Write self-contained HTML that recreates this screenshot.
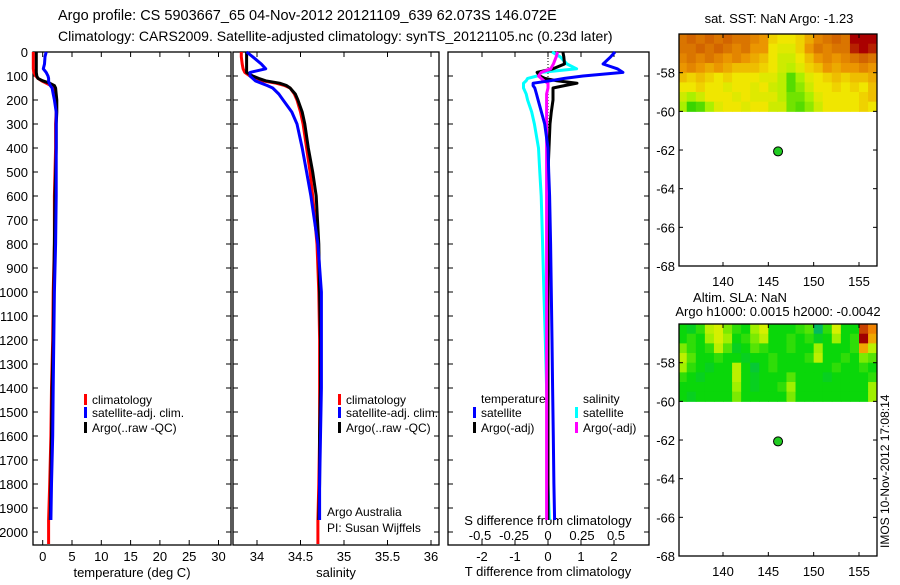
<!DOCTYPE html>
<html><head><meta charset="utf-8"><style>
body{margin:0;background:#fff;}
svg text{font-family:"Liberation Sans",sans-serif;fill:#000;}
</style></head><body>
<svg id="fig" width="900" height="580" viewBox="0 0 900 580" xmlns="http://www.w3.org/2000/svg">
<text x="58" y="20" font-size="14.5">Argo profile: CS 5903667_65 04-Nov-2012 20121109_639 62.073S 146.072E</text>
<text x="58" y="41" font-size="14">Climatology: CARS2009. Satellite-adjusted climatology: synTS_20121105.nc (0.23d later)</text>
<text x="132" y="577" font-size="13" text-anchor="middle">temperature (deg C)</text>
<text x="336" y="577" font-size="13" text-anchor="middle">salinity</text>
<text x="548" y="576" font-size="13" text-anchor="middle">T difference from climatology</text>
<text x="548" y="525" font-size="13" text-anchor="middle">S difference from climatology</text>
<text x="327" y="516" font-size="12">Argo Australia</text>
<text x="327" y="532" font-size="12">PI: Susan Wijffels</text>
<text x="779" y="23" font-size="13" text-anchor="middle">sat. SST: NaN Argo: -1.23</text>
<text x="740" y="302" font-size="13" text-anchor="middle">Altim. SLA: NaN</text>
<text x="778" y="316" font-size="13" text-anchor="middle">Argo h1000: 0.0015 h2000: -0.0042</text>
<text transform="translate(889,548) rotate(-90)" font-size="12">IMOS 10-Nov-2012 17:08:14</text>
<g id="layer"></g>
</svg>
<script>
// Depth levels (m)
const depths = [0,20,50,70,85,100,110,120,130,140,150,175,200,250,300,400,500,600,800,1000,1200,1400,1600,1800,1950,2050];
// Temperature profiles (deg C)
const tempClim = [-1.6,-1.6,-1.6,-1.6,-1.5,-1.2,-0.8,-0.2,0.6,1.4,1.8,2.1,2.3,2.3,2.2,2.2,2.1,2.0,2.0,1.8,1.7,1.5,1.4,1.2,1.0,1.0];
const tempSat = [0.6,0.4,0.3,0.1,0.6,0.9,1.0,1.0,1.1,1.3,1.6,1.8,2.0,2.3,2.3,2.3,2.3,2.3,2.2,2.0,1.9,1.8,1.7,1.5,1.4,null];
const tempArgo = [-1.1,-1.1,-1.1,-1.1,-1.1,-1.0,-0.8,0.0,1.2,2.0,2.2,2.3,2.4,2.4,2.3,2.3,2.2,2.1,2.0,1.9,1.8,1.6,1.5,1.4,1.3,null];
// Salinity profiles
const salClim = [33.82,33.82,33.83,33.84,33.86,33.92,34.0,34.06,34.22,34.32,34.38,34.43,34.46,34.5,34.53,34.57,34.61,34.64,34.69,34.71,34.72,34.72,34.72,34.71,34.70,34.70];
const salSat = [33.88,33.95,34.05,34.1,33.92,33.92,33.95,33.98,34.05,34.12,34.18,34.25,34.30,34.40,34.46,34.52,34.57,34.62,34.70,34.74,34.74,34.74,34.73,34.72,34.72,null];
const salArgo = [33.88,33.88,33.88,33.88,33.88,33.95,34.02,34.1,34.26,34.34,34.38,34.44,34.47,34.52,34.55,34.59,34.64,34.68,34.71,34.72,34.73,34.73,34.72,34.72,34.71,null];
// Difference profiles
const tDiffSat = [2.03,1.9,1.67,2.1,2.27,1.06,0.5,0.06,-0.45,-0.45,-0.4,-0.35,-0.3,-0.2,-0.1,0.0,0.02,0.05,0.08,0.1,0.12,0.14,0.16,0.18,0.2,null];
const tDiffArgo = [0.45,0.48,0.5,0.15,-0.33,-0.25,-0.1,0.27,0.88,0.5,0.15,0.15,0.15,0.1,0.06,0.03,0.0,0.0,0.0,0.0,0.0,0.0,0.0,0.0,0.0,null];
const sDiffSat = [0.03,0.09,0.14,0.21,-0.05,-0.08,-0.15,-0.16,-0.18,-0.18,-0.18,-0.16,-0.15,-0.12,-0.1,-0.07,-0.06,-0.05,-0.04,-0.03,-0.02,-0.01,0.0,0.0,0.01,null];
const sDiffArgo = [0.07,0.06,0.04,0.02,-0.05,-0.07,-0.05,-0.03,0.0,0.0,0.0,-0.01,-0.01,-0.01,-0.01,-0.01,-0.01,-0.01,-0.01,-0.01,-0.01,-0.01,-0.01,-0.01,-0.01,null];
// Tick labels
const depthTicks = [0,100,200,300,400,500,600,700,800,900,1000,1100,1200,1300,1400,1500,1600,1700,1800,1900,2000];
const tempTicks = [0,5,10,15,20,25,30];
const salTicks = [34,34.5,35,35.5,36];
const tDiffTicks = [-2,-1,0,1,2];
const sDiffTicks = [-0.5,-0.25,0,0.25,0.5];
const latTicks = [-58,-60,-62,-64,-66,-68];
const lonTicks = [140,145,150,155];
// Argo float position
const floatLon = [146.072];
const floatLat = [-62.073];
// Satellite SST grid (normalized 0..1), rows from -56 to -60 deg, 1-deg columns from 135
const sstGrid = [
[.8,.85,.8,.85,.8,.85,.8,.8,.75,.7,.55,.5,.5,.55,.65,.75,.8,.85,.8,1,1,1],
[.8,.8,.85,.8,.85,.8,.75,.8,.7,.7,.5,.45,.45,.55,.7,.8,.75,.8,.8,.95,1,.95],
[.75,.8,.75,.8,.75,.7,.75,.7,.65,.6,.5,.4,.4,.5,.6,.7,.75,.7,.75,.8,.85,.8],
[.7,.75,.7,.65,.7,.65,.6,.6,.6,.55,.5,.4,.35,.45,.55,.6,.7,.65,.7,.7,.75,.7],
[.6,.55,.6,.55,.5,.55,.5,.5,.5,.45,.45,.35,.15,.3,.45,.5,.55,.6,.55,.6,.6,.65],
[.5,.5,.55,.5,.5,.45,.5,.5,.45,.5,.4,.35,.15,.25,.4,.5,.5,.55,.5,.55,.5,.6],
[.4,.3,.4,.5,.5,.5,.45,.5,.45,.45,.45,.35,.2,.2,.3,.45,.5,.5,.5,.5,.55,.6],
[.3,.1,.15,.3,.45,.5,.5,.45,.5,.5,.4,.4,.2,.15,.25,.4,.5,.5,.5,.5,.55,.5]];
// SLA grid (normalized 0..1)
const slaGrid = [
[.3,.25,.35,.55,.6,.45,.35,.3,.5,.6,.3,.3,.3,.35,.4,.1,.35,.6,.3,.3,.9,.8],
[.3,.35,.3,.5,.6,.5,.3,.35,.45,.55,.3,.3,.35,.3,.35,.25,.3,.5,.3,.35,1,.75],
[.45,.35,.3,.35,.55,.4,.25,.3,.4,.35,.3,.3,.35,.3,.3,.5,.3,.3,.3,.35,.75,.55],
[.55,.4,.3,.3,.35,.3,.3,.25,.3,.3,.35,.3,.3,.3,.35,.55,.3,.3,.35,.3,.45,.4],
[.5,.35,.3,.25,.3,.3,.55,.3,.2,.3,.35,.3,.3,.3,.3,.3,.3,.35,.3,.3,.35,.3],
[.35,.3,.25,.3,.3,.3,.55,.3,.25,.3,.3,.3,.4,.3,.3,.3,.25,.3,.3,.3,.3,.35],
[.3,.3,.3,.3,.3,.3,.5,.3,.25,.3,.3,.35,.5,.3,.3,.3,.3,.3,.3,.3,.3,.5],
[.3,.25,.3,.3,.3,.3,.45,.3,.3,.3,.3,.3,.45,.3,.3,.3,.3,.3,.3,.3,.3,.5]];

const NS='http://www.w3.org/2000/svg';
const layer=document.getElementById('layer');
function mk(tag,attrs,parent){const e=document.createElementNS(NS,tag);for(const k in attrs)e.setAttribute(k,attrs[k]);(parent||layer).appendChild(e);return e;}
function lin(d0,d1,r0,r1){return v=>r0+(v-d0)*(r1-r0)/(d1-d0);}

const TOP=52,BOT=545;
const yD=lin(0,2000,52,532);
const panels=[
 {x0:33,x1:231,name:'temperature-panel'},
 {x0:233,x1:439,name:'salinity-panel'},
 {x0:448,x1:649,name:'difference-panel'}];
const xT=lin(0,30,42.7,218.5);
const xS=lin(34,36,257,431);
const xTd=lin(0,2,548,614);
const xSd=lin(0,0.5,548,616);

panels.forEach(p=>{
 const r=mk('rect',{x:p.x0,y:TOP,width:p.x1-p.x0,height:BOT-TOP,fill:'none',stroke:'#000','stroke-width':1.3});
 
 
 depthTicks.forEach(d=>{
  const y=yD(d);
  mk('line',{x1:p.x0,x2:p.x0+5,y1:y,y2:y,stroke:'#000'});
  mk('line',{x1:p.x1,x2:p.x1-5,y1:y,y2:y,stroke:'#000'});
 });
});
depthTicks.forEach(d=>{
 const t=mk('text',{x:28,y:yD(d)+5,'font-size':13,'text-anchor':'end'});
 t.textContent=d;
 
 
});
function xticks(ticks,sc,p,y){
 ticks.forEach(v=>{
  const x=sc(v);
  mk('line',{x1:x,x2:x,y1:BOT,y2:BOT-5,stroke:'#000'});
  mk('line',{x1:x,x2:x,y1:TOP,y2:TOP+5,stroke:'#000'});
  const t=mk('text',{x:x,y:y,'font-size':13,'text-anchor':'middle'});
  t.textContent=v;
  
  
 });
}
xticks(tempTicks,xT,panels[0],561);
xticks(salTicks,xS,panels[1],561);
xticks(tDiffTicks,xTd,panels[2],561);
sDiffTicks.forEach(v=>{
 const t=mk('text',{x:xSd(v),y:540,'font-size':13,'text-anchor':'middle'});
 t.textContent=v;
 
 
});
mk('line',{x1:548,x2:548,y1:TOP,y2:130,stroke:'#000','stroke-dasharray':'1,2','stroke-width':1});

function prof(vals,sc,color,name,w){
 let d='';let started=false;
 vals.forEach((v,i)=>{
  if(v===null||v===undefined)return;
  d+=(started?'L':'M')+sc(v).toFixed(1)+','+yD(depths[i]).toFixed(1);started=true;
 });
 const p=mk('path',{d:d,fill:'none',stroke:color,'stroke-width':w||3,'stroke-linejoin':'round'});
 
 
}
prof(tempClim,xT,'#f00','temperature-climatology-line');
prof(tempArgo,xT,'#000','temperature-argo-line');
prof(tempSat,xT,'#00f','temperature-satellite-line');
prof(salClim,xS,'#f00','salinity-climatology-line');
prof(salArgo,xS,'#000','salinity-argo-line');
prof(salSat,xS,'#00f','salinity-satellite-line');
prof(sDiffSat,xSd,'#0ff','s-diff-satellite-line');
prof(tDiffArgo,xTd,'#000','t-diff-argo-line');
prof(sDiffArgo,xSd,'#f0f','s-diff-argo-line');
prof(tDiffSat,xTd,'#00f','t-diff-satellite-line');

function legend(x,y,color,label){
 const r=mk('rect',{x:x,y:y-10,width:3,height:11,fill:color});
 
 
 const t=mk('text',{x:x+8,y:y,'font-size':12});
 t.textContent=label;
 
 
}
legend(84,404,'#f00','climatology');
legend(84,417,'#00f','satellite-adj. clim.');
legend(84,432,'#000','Argo(..raw -QC)');
legend(338,404,'#f00','climatology');
legend(338,417,'#00f','satellite-adj. clim.');
legend(338,432,'#000','Argo(..raw -QC)');
[['temperature',481],['salinity',583]].forEach(a=>{
 const t=mk('text',{x:a[1],y:403,'font-size':12});
 t.textContent=a[0];
 
 
});
legend(473,417,'#00f','satellite');
legend(473,432,'#000','Argo(-adj)');
legend(575,417,'#0ff','satellite');
legend(575,432,'#f0f','Argo(-adj)');

// Maps
function ramp(stops,v){
 for(let i=1;i<stops.length;i++){
  if(v<=stops[i][0]){const a=stops[i-1],b=stops[i];const t=(v-a[0])/(b[0]-a[0]);
   return 'rgb('+[0,1,2].map(k=>Math.round(a[1][k]+(b[1][k]-a[1][k])*t)).join(',')+')';}
 }
 const l=stops[stops.length-1][1];return 'rgb('+l.join(',')+')';
}
const sstStops=[[0,[0,200,0]],[0.3,[170,240,0]],[0.5,[240,230,0]],[0.7,[235,150,0]],[0.85,[210,100,0]],[1,[170,0,0]]];
const slaStops=[[0,[0,170,140]],[0.3,[10,215,10]],[0.5,[160,240,0]],[0.65,[240,240,0]],[0.8,[240,130,0]],[1,[160,0,0]]];
function map(top,grid,stops,name){
 const x0=679,x1=877,bot=top+232;
 const xL=lin(140,155,723,859);
 const yL=lin(-58,-68,top+38.7,bot);
 const g=mk('g',{});
 
 
 grid.forEach((row,ri)=>{
  row.forEach((v,ci)=>{
   const lo=135+ci, la=-56-ri*0.5;
   const xa=Math.max(x0,xL(lo)), xb=Math.min(x1,xL(lo+1));
   mk('rect',{x:xa,y:yL(la),width:xb-xa+0.5,height:yL(la-0.5)-yL(la)+0.5,fill:ramp(stops,v)},g);
  });
 });
 const fr=mk('rect',{x:x0,y:top,width:x1-x0,height:bot-top,fill:'none',stroke:'#000','stroke-width':1.3});
 
 
 latTicks.forEach(v=>{
  const y=yL(v);
  mk('line',{x1:x0,x2:x0+4,y1:y,y2:y,stroke:'#000'});
  mk('line',{x1:x1,x2:x1-4,y1:y,y2:y,stroke:'#000'});
  const t=mk('text',{x:x0-4,y:y+5,'font-size':13,'text-anchor':'end'});
  t.textContent=v;
  
  
 });
 lonTicks.forEach(v=>{
  const x=xL(v);
  mk('line',{x1:x,x2:x,y1:bot,y2:bot-4,stroke:'#000'});
  mk('line',{x1:x,x2:x,y1:top,y2:top+4,stroke:'#000'});
  const t=mk('text',{x:x,y:bot+20,'font-size':13,'text-anchor':'middle'});
  t.textContent=v;
  
  
 });
 const c=mk('circle',{cx:xL(floatLon[0]),cy:yL(floatLat[0]),r:4.5,fill:'#22cc22',stroke:'#000','stroke-width':1});
 
 
}
map(34,sstGrid,sstStops,'sst-map');
map(324,slaGrid,slaStops,'sla-map');
</script>
</body></html>
